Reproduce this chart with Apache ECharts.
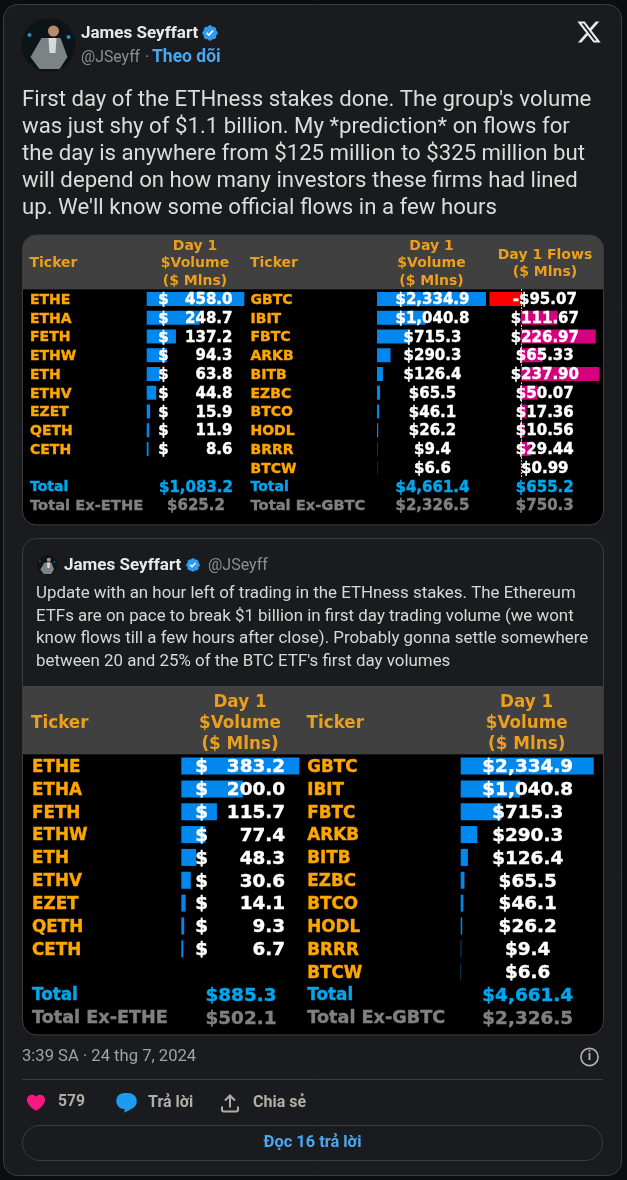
<!DOCTYPE html>
<html>
<head>
<meta charset="utf-8">
<style>html,body{margin:0;padding:0;background:#000}#main{width:627px;height:1180px}</style>
<script src="https://cdn.jsdelivr.net/npm/echarts@6/dist/echarts.min.js"></script>
</head>
<body>
<div id="main"></div>
<script>
// table data
const ethTickers = ["ETHE", "ETHA", "FETH", "ETHW", "ETH", "ETHV", "EZET", "QETH", "CETH"];
const btcTickers = ["GBTC", "IBIT", "FBTC", "ARKB", "BITB", "EZBC", "BTCO", "HODL", "BRRR", "BTCW"];
const ethVolClose = [458.0, 248.7, 137.2, 94.3, 63.8, 44.8, 15.9, 11.9, 8.6];
const ethVolUpdate = [383.2, 200.0, 115.7, 77.4, 48.3, 30.6, 14.1, 9.3, 6.7];
const btcVol = [2334.9, 1040.8, 715.3, 290.3, 126.4, 65.5, 46.1, 26.2, 9.4, 6.6];
const btcFlows = [-95.07, 111.67, 226.97, 65.33, 237.9, 50.07, 17.36, 10.56, 29.44, 0.99];
const ethTotalsClose = ["$1,083.2", "$625.2"];
const ethTotalsUpdate = ["$885.3", "$502.1"];
const btcTotals = ["$4,661.4", "$2,326.5"];
const flowTotals = ["$655.2", "$750.3"];
const bodyLines = [
  "First day of the ETHness stakes done. The group's volume",
  "was just shy of $1.1 billion. My *prediction* on flows for",
  "the day is anywhere from $125 million to $325 million but",
  "will depend on how many investors these firms had lined",
  "up. We'll know some official flows in a few hours"
];
const quoteLines = [
  "Update with an hour left of trading in the ETHness stakes. The Ethereum",
  "ETFs are on pace to break $1 billion in first day trading volume (we wont",
  "know flows till a few hours after close). Probably gonna settle somewhere",
  "between 20 and 25% of the BTC ETF's first day volumes"
];

const ORANGE = "#ffa500";
const HEAD = "#eb9f1c";
const CYAN = "#00a6ee";
const GREY = "#808080";
const WHITE = "#ffffff";
const BLUE = "#0088ee";
const PINK = "#d6007f";
const UI = "Roboto, 'Noto Sans', sans-serif";
const MONO = "'DejaVu Sans', Verdana, sans-serif";

const fmt1 = (v) => "$" + v.toLocaleString("en-US", { minimumFractionDigits: 1, maximumFractionDigits: 1 });
const fmt2 = (v) => (v < 0 ? "-$" : "$") + Math.abs(v).toFixed(2);

const grids = [];
const xAxes = [];
const yAxes = [];
const series = [];

// one column of cell text, drawn as the labels of a category axis
const textColumn = (box, x, labels, baseColor, fontSize, align) => {
  const i = grids.length;
  grids.push({ left: x, width: 1, top: box.top + box.textDy, height: box.rowH * labels.length });
  xAxes.push({ gridIndex: i, type: "value", show: false });
  yAxes.push({
    gridIndex: i,
    type: "category",
    inverse: true,
    z: 10,
    data: labels.map((t, r) => {
      const color = r === 10 ? CYAN : r === 11 ? GREY : baseColor;
      // align is only read from the item here, not from axisLabel
      return {
        value: t,
        textStyle: {
          align: align,
          color: color,
          textBorderColor: color,
          textBorderWidth: 0.4,
          fontSize: t.startsWith("Total Ex") ? fontSize * 1.05 : fontSize,
        },
      };
    }),
    axisLine: { show: false },
    axisTick: { show: false },
    axisLabel: {
      interval: 0,
      hideOverlap: false,
      margin: 0,
      fontFamily: MONO,
      fontWeight: "bold",
      fontSize: fontSize,
    },
  });
};

// one column of in-cell bars
const barColumn = (box, left, width, values, color, zeroLine) => {
  const i = grids.length;
  grids.push({ left: left, width: width, top: box.top, height: box.rowH * values.length });
  xAxes.push({
    gridIndex: i,
    type: "value",
    show: false,
    min: Math.min(0, ...values),
    max: Math.max(...values),
  });
  yAxes.push({
    gridIndex: i,
    type: "category",
    inverse: true,
    data: values.map((_, r) => r),
    axisTick: { show: false },
    axisLabel: { show: false },
    axisLine: {
      show: !!zeroLine,
      lineStyle: { color: "#dddddd", type: [1, 2], width: 1 },
    },
  });
  series.push({
    type: "bar",
    xAxisIndex: i,
    yAxisIndex: i,
    barWidth: box.barH,
    silent: true,
    data: values.map((v) => ({ value: v, itemStyle: { color: v < 0 ? "#ff0000" : color } })),
  });
};

const pad = (a, n) => a.concat(new Array(n - a.length).fill(""));

const table1 = { top: 289.6, rowH: 18.75, barH: 14, textDy: 1.3 };
barColumn(table1, 146.7, 97.6, ethVolClose, BLUE);
barColumn(table1, 377, 109, btcVol, BLUE);
barColumn(table1, 489.4, 110, btcFlows, PINK, true);
textColumn(table1, 30, pad(ethTickers, 10).concat(["Total", "Total Ex-ETHE"]), ORANGE, 14, "left");
textColumn(table1, 163.5, ethVolClose.map(() => "$"), WHITE, 15, "center");
textColumn(table1, 232.5, ethVolClose.map((v) => v.toFixed(1)), WHITE, 15, "right");
textColumn(table1, 196, pad([], 10).concat(ethTotalsClose), WHITE, 15, "center");
textColumn(table1, 250.5, btcTickers.concat(["Total", "Total Ex-GBTC"]), ORANGE, 14, "left");
textColumn(table1, 432.5, btcVol.map(fmt1).concat(btcTotals), WHITE, 15, "center");
textColumn(table1, 544.8, btcFlows.map(fmt2).concat(flowTotals), WHITE, 15, "center");

const table2 = { top: 754.6, rowH: 22.85, barH: 17, textDy: 1.5 };
barColumn(table2, 181.3, 118, ethVolUpdate, BLUE);
barColumn(table2, 460.7, 133, btcVol, BLUE);
textColumn(table2, 32, pad(ethTickers, 10).concat(["Total", "Total Ex-ETHE"]), ORANGE, 16.8, "left");
textColumn(table2, 201.7, ethVolUpdate.map(() => "$"), WHITE, 18.4, "center");
textColumn(table2, 285, ethVolUpdate.map((v) => v.toFixed(1)), WHITE, 18.4, "right");
textColumn(table2, 241, pad([], 10).concat(ethTotalsUpdate), WHITE, 18.4, "center");
textColumn(table2, 307.3, btcTickers.concat(["Total", "Total Ex-GBTC"]), ORANGE, 16.8, "left");
textColumn(table2, 527.7, btcVol.map(fmt1).concat(btcTotals), WHITE, 18.4, "center");

// icon shapes for the tweet chrome, all on a 24 unit box
const iconPaths = {
  xLogo: "M18.244 2.25h3.308l-7.227 8.26 8.502 11.24H16.17l-5.214-6.817L4.99 21.75H1.68l7.73-8.835L1.254 2.25H8.08l4.713 6.231zm-1.161 17.52h1.833L7.084 4.126H5.117z",
  badge: "M22.25 12c0-1.43-.88-2.67-2.19-3.34.46-1.39.2-2.9-.81-3.91s-2.52-1.27-3.91-.81c-.66-1.31-1.91-2.19-3.34-2.19s-2.67.88-3.33 2.19c-1.4-.46-2.91-.2-3.92.81s-1.26 2.52-.8 3.91c-1.31.67-2.2 1.91-2.2 3.34s.89 2.67 2.2 3.34c-.46 1.39-.21 2.9.8 3.91s2.52 1.26 3.91.81c.67 1.31 1.91 2.19 3.34 2.19s2.68-.88 3.34-2.19c1.39.45 2.9.2 3.91-.81s1.27-2.52.81-3.91c1.31-.67 2.19-1.91 2.19-3.34zm-11.71 4.2L6.8 12.46l1.41-1.42 2.26 2.26 4.8-5.23 1.47 1.36-6.2 6.77z",
  heart: "M20.884 13.19c-1.351 2.48-4.001 5.12-8.379 7.67l-.503.3-.504-.3c-4.379-2.55-7.029-5.19-8.382-7.67-1.36-2.5-1.41-4.86-.514-6.67.887-1.79 2.647-2.91 4.601-3.01 1.651-.09 3.368.56 4.798 2.01 1.429-1.45 3.146-2.1 4.796-2.01 1.954.1 3.714 1.22 4.601 3.01.896 1.81.846 4.17-.514 6.67z",
  bubble: "M1.751 10c0-4.42 3.584-8 8.005-8h4.366c4.49 0 8.129 3.64 8.129 8.13 0 2.96-1.607 5.68-4.196 7.11l-8.054 4.46v-3.69h-.067c-4.49.1-8.183-3.51-8.183-8.01z",
  share: "M12 2.59l5.7 5.7-1.41 1.42L13 6.41V16h-2V6.41l-3.3 3.3-1.41-1.42L12 2.59zM21 15l-.02 3.51c0 1.38-1.12 2.49-2.5 2.49H5.5C4.11 21 3 19.88 3 18.5V15h2v3.5c0 .28.22.5.5.5h12.98c.28 0 .5-.22.5-.5L19 15h2z",
};
Object.keys(iconPaths).forEach((k) => {
  echarts.graphic.registerShape(k, echarts.graphic.extendPath(iconPaths[k], {}));
});

const text = (t, x, y, font, fill, align) => ({
  type: "text",
  silent: true,
  z: 20,
  style: {
    // canvas middle sits about 2px above the reference line centres
    text: t, x: x, y: y + 2, font: font, fill: fill,
    align: align || "left", verticalAlign: "middle",
    textAlign: align || "left", textVerticalAlign: "middle",
  },
});
const rect = (x, y, w, h, r, fill, stroke, z) => ({
  type: "rect",
  silent: true,
  z: z === undefined ? -10 : z,
  shape: { x: x, y: y, width: w, height: h, r: r },
  style: { fill: fill || "transparent", stroke: stroke || "transparent", lineWidth: stroke ? 1 : 0 },
});
const icon = (name, x, y, size, fill) => ({
  type: name,
  silent: true,
  z: 20,
  x: x,
  y: y,
  scaleX: size / 24,
  scaleY: size / 24,
  style: { fill: fill },
});
const circle = (cx, cy, r, fill, stroke) => ({
  type: "circle",
  silent: true,
  z: 20,
  shape: { cx: cx, cy: cy, r: r },
  style: { fill: fill || "transparent", stroke: stroke || "transparent", lineWidth: stroke ? 1.6 : 0 },
});

const badge = (x, y, size) => [
  circle(x + size / 2, y + size / 2, size * 0.28, "#ffffff"),
  icon("badge", x, y, size, "#2f9bf0"),
];
// small stand-in for the profile photo
const avatar = (cx, cy, r) => {
  const k = r / 27;
  const sx = cx + 3 * k;
  return [
    circle(cx, cy, r, "#0d1418"),
    circle(cx + 20 * k, cy - 8 * k, 2 * k, "#2b8fc0"),
    circle(cx - 19 * k, cy - 10 * k, 2 * k, "#2b8fc0"),
    circle(sx + 2 * k, cy - 14 * k, 5.5 * k, "#b98a6c"),
    { type: "polygon", silent: true, z: 20,
      shape: { points: [[sx - 10 * k, cy - 7 * k], [sx + 9 * k, cy - 7 * k], [sx + 16 * k, cy + 12 * k], [sx + 8 * k, cy + 24 * k], [sx - 12 * k, cy + 24 * k], [sx - 21 * k, cy + 12 * k]] },
      style: { fill: "#7d8384" } },
    { type: "polygon", silent: true, z: 20,
      shape: { points: [[sx - 3 * k, cy - 7 * k], [sx + 5 * k, cy - 7 * k], [sx + 4 * k, cy + 8 * k], [sx - 2 * k, cy + 8 * k]] },
      style: { fill: "#d7dadb" } },
  ];
};

const graphics = [
  rect(3.5, 4.5, 618, 1171, 14, "#191b1e", "#3a3d40"),
  // first table
  rect(22.5, 235, 581, 54.6, [14, 14, 0, 0], "#404040"),
  rect(22.5, 289.6, 581, 235, [0, 0, 14, 14], "#000000"),
  rect(22.5, 235, 581, 290, 14, "transparent", "#3a3d40", -9),
  // quoted tweet and its table
  rect(22.5, 538.5, 581, 496.5, 14, "transparent", "#3a3d40", -9),
  rect(23, 686, 580, 68.6, 0, "#404040"),
  rect(23, 754.6, 580, 280, [0, 0, 14, 14], "#000000"),
  ...avatar(48.5, 45, 27),
  text("James Seyffart", 81, 32, "bold 17px " + UI, "#e7e9ea"),
  ...badge(201, 24, 18),
  text("@JSeyff", 81, 56, "15.8px " + UI, "#8b8f94"),
  text("·", 145, 56, "15.8px " + UI, "#8b8f94"),
  text("Theo dõi", 152, 56, "bold 17.5px " + UI, "#4aa8f0"),
  icon("xLogo", 576, 19, 26, "#e7e9ea"),
  ...bodyLines.map((t, i) => text(t, 22, 98 + i * 27, "22.2px " + UI, "#dcdcd8")),
  // table 1 headers
  text("Ticker", 29.5, 261, "bold 14px " + MONO, HEAD),
  text("Day 1", 195, 244, "bold 14px " + MONO, HEAD, "center"),
  text("$Volume", 195, 261.5, "bold 14px " + MONO, HEAD, "center"),
  text("($ Mlns)", 195, 279, "bold 14px " + MONO, HEAD, "center"),
  text("Ticker", 250, 261, "bold 14px " + MONO, HEAD),
  text("Day 1", 431.5, 244, "bold 14px " + MONO, HEAD, "center"),
  text("$Volume", 431.5, 261.5, "bold 14px " + MONO, HEAD, "center"),
  text("($ Mlns)", 431.5, 279, "bold 14px " + MONO, HEAD, "center"),
  text("Day 1 Flows", 545, 253, "bold 14px " + MONO, HEAD, "center"),
  text("($ Mlns)", 545, 270.5, "bold 14px " + MONO, HEAD, "center"),
  // quoted tweet
  ...avatar(47, 565, 10),
  text("James Seyffart", 64, 563.5, "bold 17px " + UI, "#e7e9ea"),
  ...badge(185, 557, 16),
  text("@JSeyff", 208, 564, "16px " + UI, "#8b8f94"),
  ...quoteLines.map((t, i) => text(t, 36, 592 + i * 22.6, "16.9px " + UI, "#d8d8d4")),
  // table 2 headers
  text("Ticker", 31, 721.5, "bold 16.8px " + MONO, HEAD),
  text("Day 1", 240, 701, "bold 16.8px " + MONO, HEAD, "center"),
  text("$Volume", 240, 722, "bold 16.8px " + MONO, HEAD, "center"),
  text("($ Mlns)", 240, 743, "bold 16.8px " + MONO, HEAD, "center"),
  text("Ticker", 306.5, 721.5, "bold 16.8px " + MONO, HEAD),
  text("Day 1", 526.7, 701, "bold 16.8px " + MONO, HEAD, "center"),
  text("$Volume", 526.7, 722, "bold 16.8px " + MONO, HEAD, "center"),
  text("($ Mlns)", 526.7, 743, "bold 16.8px " + MONO, HEAD, "center"),
  // footer
  text("3:39 SA · 24 thg 7, 2024", 22, 1055, "16.6px " + UI, "#a3a39c"),
  circle(589.5, 1057, 8.6, "transparent", "#b5b2aa"),
  text("i", 589.5, 1055, "bold 13px " + UI, "#b5b2aa", "center"),
  { type: "line", silent: true, z: 20, shape: { x1: 22, y1: 1079.5, x2: 603, y2: 1079.5 }, style: { stroke: "#3a3d40", lineWidth: 1 } },
  icon("heart", 25.2, 1091.7, 21.6, "#f91880"),
  text("579", 58, 1100.5, "bold 15.7px " + UI, "#b0aea6"),
  icon("bubble", 114.5, 1091, 24, "#1d9bf0"),
  text("Trả lời", 148, 1100.5, "bold 16px " + UI, "#b0aea6"),
  icon("share", 218, 1091.5, 24, "#b0aea6"),
  text("Chia sẻ", 253, 1100.5, "bold 16px " + UI, "#b0aea6"),
  rect(22.5, 1125.5, 580, 35, 17.5, "transparent", "#3a3d40", 20),
  text("Đọc 16 trả lời", 312.5, 1141, "bold 16.4px " + UI, "#4aa8f0", "center"),
];

const chart = echarts.init(document.getElementById("main"), null, { renderer: "canvas" });
chart.setOption({
  animation: false,
  backgroundColor: "#0c0d0e",
  tooltip: { show: false },
  grid: grids,
  xAxis: xAxes,
  yAxis: yAxes,
  series: series,
  graphic: { elements: graphics },
});
</script>
</body>
</html>
